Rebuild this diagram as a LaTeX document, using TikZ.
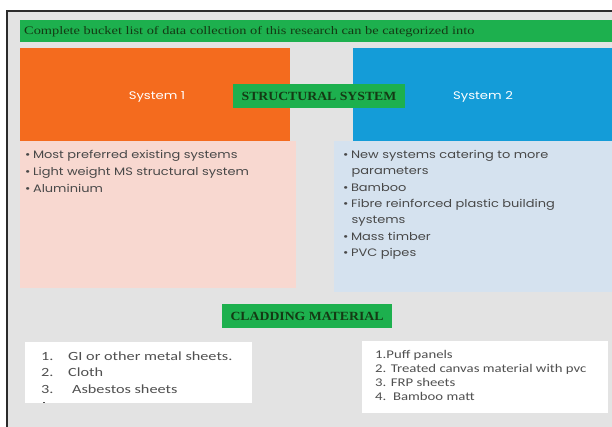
\documentclass[tikz,border=0pt]{standalone}
\usepackage{fontspec}
\setmainfont{Liberation Serif}
\newfontfamily\headfont[FakeStretch=1.25]{Liberation Serif}
\newfontfamily\labfont[FakeStretch=1.1]{Liberation Serif}
\newfontfamily\gothic[FakeStretch=1.2]{Poppins}
\newfontfamily\calibA[FakeStretch=1.3]{Carlito}
\newfontfamily\calibB[FakeStretch=1.25]{Carlito}
\definecolor{bggray}{HTML}{E3E3E3}
\definecolor{framecol}{HTML}{2B2B2B}
\definecolor{hgreen}{HTML}{1DB04E}
\definecolor{orng}{HTML}{F46B1E}
\definecolor{blu}{HTML}{149CD8}
\definecolor{pinkbg}{HTML}{F8D8D0}
\definecolor{lbluebg}{HTML}{D5E2EF}
\definecolor{dgreen}{HTML}{143A14}
\definecolor{txtgray}{HTML}{484848}
\definecolor{lsgray}{HTML}{505050}
\tikzset{
  panel/.style={anchor=north west, inner sep=0pt, outer sep=0pt, draw=none},
  greenlabel/.style={fill=hgreen, inner sep=0pt, minimum height=24pt, text=dgreen, font=\labfont\fontsize{12.5}{14}\selectfont\bfseries},
  systext/.style={text=white, font=\gothic\fontsize{11}{12}\selectfont, inner sep=0pt},
  bul/.style={anchor=base west, inner sep=0pt, text=txtgray, font=\gothic\fontsize{10.8}{12}\selectfont},
  cladA/.style={anchor=base west, inner sep=0pt, text=lsgray, font=\calibA\fontsize{12.5}{14}\selectfont},
  cladB/.style={anchor=base west, inner sep=0pt, text=lsgray, font=\calibB\fontsize{11.8}{13}\selectfont},
}
\begin{document}
\begin{tikzpicture}[x=1pt,y=-1pt]
\useasboundingbox (0,0) rectangle (612,426);
\clip (0,0) rectangle (612,426);
\fill[white] (0,0) rectangle (612,426);
\draw[framecol, line width=1.4pt, fill=bggray] (7,11) rectangle (650,450);
% header bar
\node[panel, fill=hgreen, minimum width=620pt, minimum height=22pt] (bar) at (20,20) {};
\node[anchor=base west, inner sep=0pt, text=dgreen, font=\headfont\fontsize{11.5}{12}\selectfont] (bartext) at (24,34.8) {Complete bucket list of data collection of this research can be categorized into};
% system panels
\node[panel, fill=pinkbg, minimum width=276pt, minimum height=147pt] (pink) at (20,141) {};
\node[panel, fill=lbluebg, minimum width=300pt, minimum height=151pt] (lblue) at (334,141) {};
\node[panel, fill=orng, minimum width=270pt, minimum height=93pt] (sys1) at (20,48) {};
\node[panel, fill=blu, minimum width=290pt, minimum height=93pt] (sys2) at (353,48) {};
\node[systext] (sys1t) at (157,97) {System 1};
\node[systext] (sys2t) at (483,97) {System 2};
\node[greenlabel, minimum width=172pt] (struct) at (319,96) {STRUCTURAL SYSTEM};
% left bullets
\node[bul] (a1) at (25,158.5) {•\hspace{2.5pt}Most preferred existing systems};
\node[bul] (a2) at (25,175.3) {•\hspace{2.5pt}Light weight MS structural system};
\node[bul] (a3) at (25,192.1) {•\hspace{2.5pt}Aluminium};
% right bullets
\node[bul] (b1) at (343,158.5) {•\hspace{2.5pt}New systems catering to more};
\node[bul] (b2) at (351.5,174.8) {parameters};
\node[bul] (b3) at (343,191.1) {•\hspace{2.5pt}Bamboo};
\node[bul] (b4) at (343,207.4) {•\hspace{2.5pt}Fibre reinforced plastic building};
\node[bul] (b5) at (351.5,223.7) {systems};
\node[bul] (b6) at (343,240) {•\hspace{2.5pt}Mass timber};
\node[bul] (b7) at (343,256.3) {•\hspace{2.5pt}PVC pipes};
% cladding
\node[greenlabel, panel, minimum width=170pt] (cladlab) at (222,304) {};
\node[text=dgreen, font=\labfont\fontsize{12.5}{14}\selectfont\bfseries, inner sep=0pt] (cladtext) at (cladlab.center) {CLADDING MATERIAL};
\node[panel, fill=white, minimum width=227pt, minimum height=61pt] (w1) at (25,342) {};
\node[panel, fill=white, minimum width=246pt, minimum height=72pt] (w2) at (362,341) {};
\node[cladA] (c1n) at (41,360) {1.};
\node[cladA] (c1) at (68,360) {GI or other metal sheets.};
\node[cladA] (c2n) at (41,376.5) {2.};
\node[cladA] (c2) at (68,376.5) {Cloth};
\node[cladA] (c3n) at (41,393.5) {3.};
\node[cladA] (c3) at (72,393.5) {Asbestos sheets};
\node[anchor=center, inner sep=0pt, text=lsgray, font=\calibA\fontsize{6}{6}\selectfont] (c4n) at (44,402) {\rule{1.8pt}{0.9pt}};
\node[cladB] (d1) at (375,358.5) {1.Puff panels};
\node[cladB] (d2) at (375,372.5) {2. Treated canvas material with pvc};
\node[cladB] (d3) at (375,386.5) {3. FRP sheets};
\node[cladB] (d4) at (375,400.5) {4.\ \ Bamboo matt};
\end{tikzpicture}
\end{document}
